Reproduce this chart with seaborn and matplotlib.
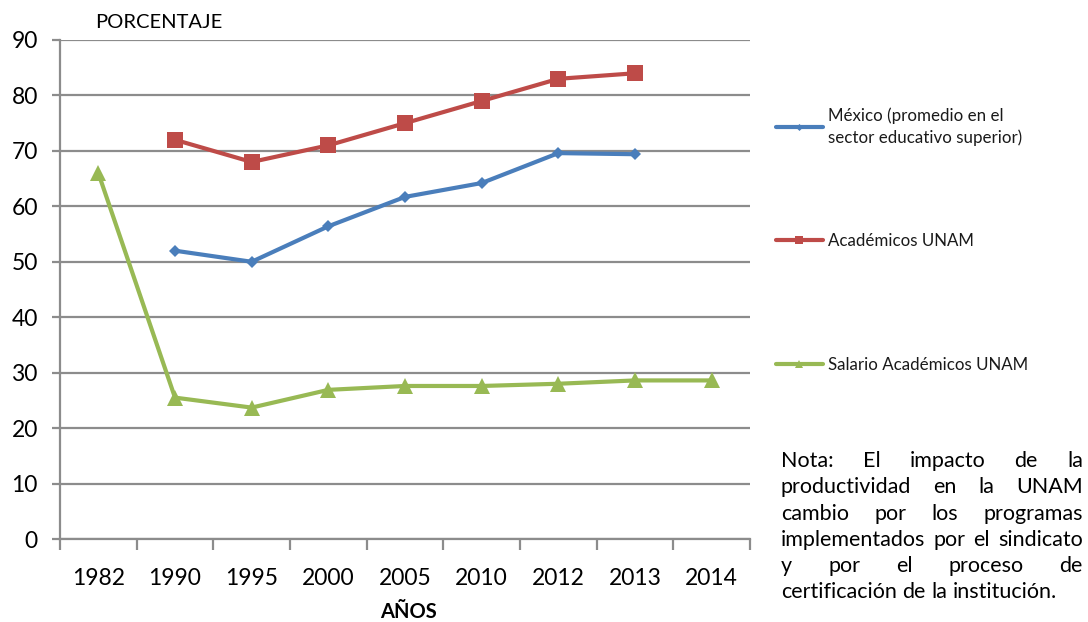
import numpy as np
import pandas as pd
import matplotlib
matplotlib.use("Agg")
import matplotlib.pyplot as plt
from matplotlib.ticker import FixedLocator, NullFormatter
import seaborn as sns

# Data
years = ["1982", "1990", "1995", "2000", "2005", "2010", "2012", "2013", "2014"]
mexico_years = ["1990", "1995", "2000", "2005", "2010", "2012", "2013"]
mexico = [52.0, 50.0, 56.4, 61.7, 64.2, 69.6, 69.4]
academicos_years = ["1990", "1995", "2000", "2005", "2010", "2012", "2013"]
academicos = [72.0, 68.0, 71.0, 75.0, 79.0, 83.0, 84.0]
salario_years = years
salario = [66.0, 25.5, 23.7, 26.9, 27.6, 27.6, 28.0, 28.6, 28.6]

series_names = ["México (promedio en el\nsector educativo superior)",
                "Académicos UNAM",
                "Salario Académicos UNAM"]
colors = ["#4A7EBB", "#BE4B48", "#98B954"]
markers = ["D", "s", "^"]
marker_sizes = [6.5, 11.5, 11.5]

note_lines = ["Nota: El impacto de la",
              "productividad en la UNAM",
              "cambio por los programas",
              "implementados por el sindicato",
              "y por el proceso de",
              "certificación de la institución."]

sns.set_theme(style="white")
plt.rcParams["font.family"] = ["Lato", "DejaVu Sans"]

W, H = 1088, 622
fig = plt.figure(figsize=(W / 100, H / 100), dpi=100)
ax = fig.add_axes([60 / W, 1 - 539 / H, 690 / W, 499 / H])

pos = {y: i for i, y in enumerate(years)}
frames = []
for name, yrs, vals in zip(series_names,
                           [mexico_years, academicos_years, salario_years],
                           [mexico, academicos, salario]):
    frames.append(pd.DataFrame({"x": [pos[y] for y in yrs], "valor": vals,
                                "serie": name}))

for df, c, m, ms in zip(frames, colors, markers, marker_sizes):
    sns.lineplot(data=df, x="x", y="valor", ax=ax, color=c, lw=3.0,
                 marker=m, markersize=ms, markeredgewidth=0,
                 label=df["serie"].iloc[0], legend=False, zorder=3)

grid_c = "#8C8C8C"
ax.set_xlim(-0.5, len(years) - 0.5)
ax.set_ylim(0, 90)
ax.set_yticks(np.arange(0, 91, 10))
ax.yaxis.grid(True, color=grid_c, lw=1.6)
ax.set_axisbelow(True)
for s in ["top", "right"]:
    ax.spines[s].set_visible(False)
for s in ["left", "bottom"]:
    ax.spines[s].set_color(grid_c)
    ax.spines[s].set_linewidth(1.6)

ax.set_xticks(range(len(years)))
ax.set_xticklabels(years)
ax.xaxis.set_minor_locator(FixedLocator(np.arange(-0.5, len(years), 1.0)))
ax.xaxis.set_minor_formatter(NullFormatter())
ax.tick_params(axis="x", which="major", length=0, pad=21, labelsize=16.5,
               labelcolor="black")
ax.tick_params(axis="x", which="minor", length=8, width=1.6, color=grid_c,
               direction="out", bottom=True)
ax.tick_params(axis="y", length=6, width=1.6, color=grid_c, labelsize=16.5,
               labelcolor="black", pad=10, left=True)
ax.set_xlabel("")
ax.set_ylabel("")

fig.text(95 / W, 1 - 22 / H, "PORCENTAJE", fontsize=14.5, va="center",
         ha="left", color="black")
fig.text(408 / W, 1 - 612 / H, "AÑOS", fontsize=14.5, fontweight="bold",
         va="center", ha="center", color="black")

# One legend entry per series, stacked down the right side
handles, labels = ax.get_legend_handles_labels()
legend_tops = [107, 233, 357]
for h, lab, top in zip(handles, labels, legend_tops):
    leg = fig.legend([h], [lab], loc="upper left",
                     bbox_to_anchor=(776 / W, 1 - top / H),
                     frameon=False, fontsize=12.2, handlelength=2.75,
                     handletextpad=0.3, borderaxespad=0, borderpad=0,
                     markerscale=0.55)
    for t in leg.get_texts():
        t.set_color("#1a1a1a")
        t.set_linespacing(1.4)

# Justified note block
fig.canvas.draw()
renderer = fig.canvas.get_renderer()
x0, x1 = 781, 1083
base0, step = 467, 26.3
for i, line in enumerate(note_lines):
    words = line.split(" ")
    y = 1 - (base0 + i * step) / H
    texts = [fig.text(0, y, w, fontsize=15.5, ha="left", va="baseline",
                      color="black") for w in words]
    widths = [t.get_window_extent(renderer).width for t in texts]
    last = i == len(note_lines) - 1
    if last or len(words) == 1:
        space = texts[0].get_fontsize() * 0.35
    else:
        space = (x1 - x0 - sum(widths)) / (len(words) - 1)
    xp = x0
    for t, w in zip(texts, widths):
        t.set_x(xp / W)
        xp += w + space

fig.savefig("out.png", dpi=100)
